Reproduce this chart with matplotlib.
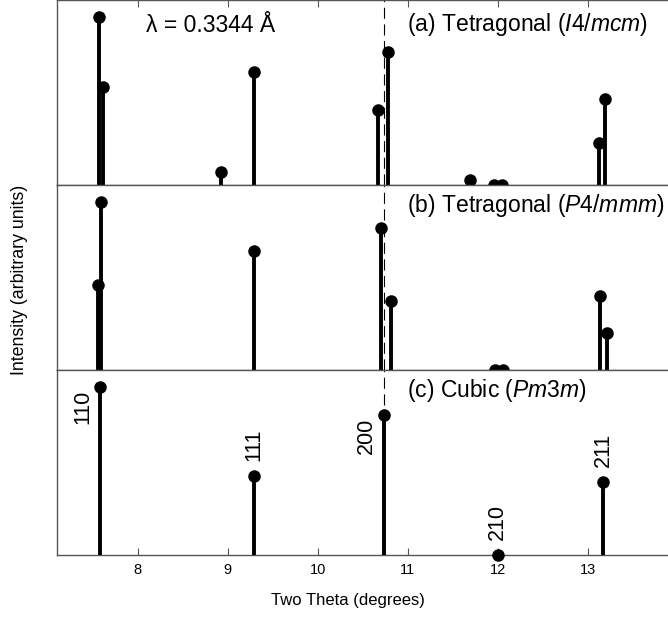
import matplotlib
matplotlib.use('Agg')
import matplotlib.pyplot as plt

plt.rcParams['font.family'] = ['Liberation Sans', 'DejaVu Sans']
plt.rcParams['mathtext.fontset'] = 'custom'
plt.rcParams['mathtext.rm'] = 'Liberation Sans'
plt.rcParams['mathtext.it'] = 'Liberation Sans:italic'

# peak positions (2theta, deg) and relative intensities
tetI_2theta = [7.573, 7.611, 8.922, 9.296, 10.667, 10.778, 11.692, 11.959, 12.05, 13.126, 13.19]
tetI_int = [1.0, 0.58, 0.076, 0.674, 0.446, 0.793, 0.03, 0.0, 0.0, 0.252, 0.51]

tetP_2theta = [7.556, 7.592, 9.296, 10.70, 10.81, 11.97, 12.06, 13.14, 13.21]
tetP_int = [0.506, 1.0, 0.708, 0.847, 0.41, 0.0, 0.0, 0.44, 0.218]

cubic_2theta = [7.581, 9.296, 10.74, 12.0, 13.17]
cubic_int = [1.0, 0.47, 0.833, 0.0, 0.433]
cubic_hkl = ['110', '111', '200', '210', '211']

ref_2theta = 10.74
panel_titles = ['(a) Tetragonal ($I$4/$mcm$)',
                '(b) Tetragonal ($P$4/$mmm$)',
                '(c) Cubic ($Pm$3$m$)']
wavelength_text = '\u03bb = 0.3344 \u00c5'

W, H = 668, 617
fig = plt.figure(figsize=(W / 100, H / 100), dpi=100)

left = 56.7 / W
width = 621.0 / W
ph = 185.0 / H
bottom0 = (H - 555.0) / H

spine_col = '#555555'
axes = []
for i in range(3):
    ax = fig.add_axes([left, bottom0 + (2 - i) * ph, width, ph])
    ax.set_xlim(7.1, 14.0)
    ax.set_ylim(0, 1.1)
    ax.set_yticks([])
    ax.set_xticks([8, 9, 10, 11, 12, 13])
    for s in ax.spines.values():
        s.set_color(spine_col)
        s.set_linewidth(1.0)
    ax.tick_params(axis='x', direction='in', length=5, width=0.8, color=spine_col,
                   labelsize=10.5, pad=6, top=False, bottom=False, labelbottom=False)
    axes.append(ax)

axes[0].tick_params(axis='x', top=True)
axes[2].tick_params(axis='x', bottom=True, labelbottom=True)

series = [(tetI_2theta, tetI_int), (tetP_2theta, tetP_int), (cubic_2theta, cubic_int)]
for ax, (xs, ys) in zip(axes, series):
    ax.axvline(ref_2theta, color='k', lw=0.8, linestyle=(0, (10, 5)), zorder=1)
    ax.vlines(xs, 0, ys, color='k', lw=2.8, zorder=3)
    ax.plot(xs, ys, 'o', color='k', ms=8, clip_on=False, zorder=4)

# panel labels
title_y = [0.832, 0.852, 0.852]
for ax, t, ty in zip(axes, panel_titles, title_y):
    ax.text(0.5636, ty, t, transform=ax.transAxes, fontsize=16.5, ha='left', va='baseline')
axes[0].text(0.1438, 0.825, wavelength_text, transform=axes[0].transAxes,
             fontsize=16.5, ha='left', va='baseline')

# Miller indices on cubic panel
label_side = ['left', 'above', 'left', 'above', 'above']
for x, y, hkl, side in zip(cubic_2theta, cubic_int, cubic_hkl, label_side):
    if side == 'left':
        axes[2].annotate(hkl, (x, y), xytext=(-5, -2), textcoords='offset points',
                         rotation=90, ha='right', va='top', fontsize=15.5)
    else:
        axes[2].annotate(hkl, (x, y), xytext=(0, 11), textcoords='offset points',
                         rotation=90, ha='center', va='bottom', fontsize=15.5)

fig.text(347.5 / W, 1 - 601.0 / H, 'Two Theta (degrees)', fontsize=12,
         ha='center', va='center')
fig.text(19.5 / W, 1 - 280.0 / H, 'Intensity (arbitrary units)', fontsize=12.8,
         ha='center', va='center', rotation=90)

fig.savefig('out.png', dpi=100)
